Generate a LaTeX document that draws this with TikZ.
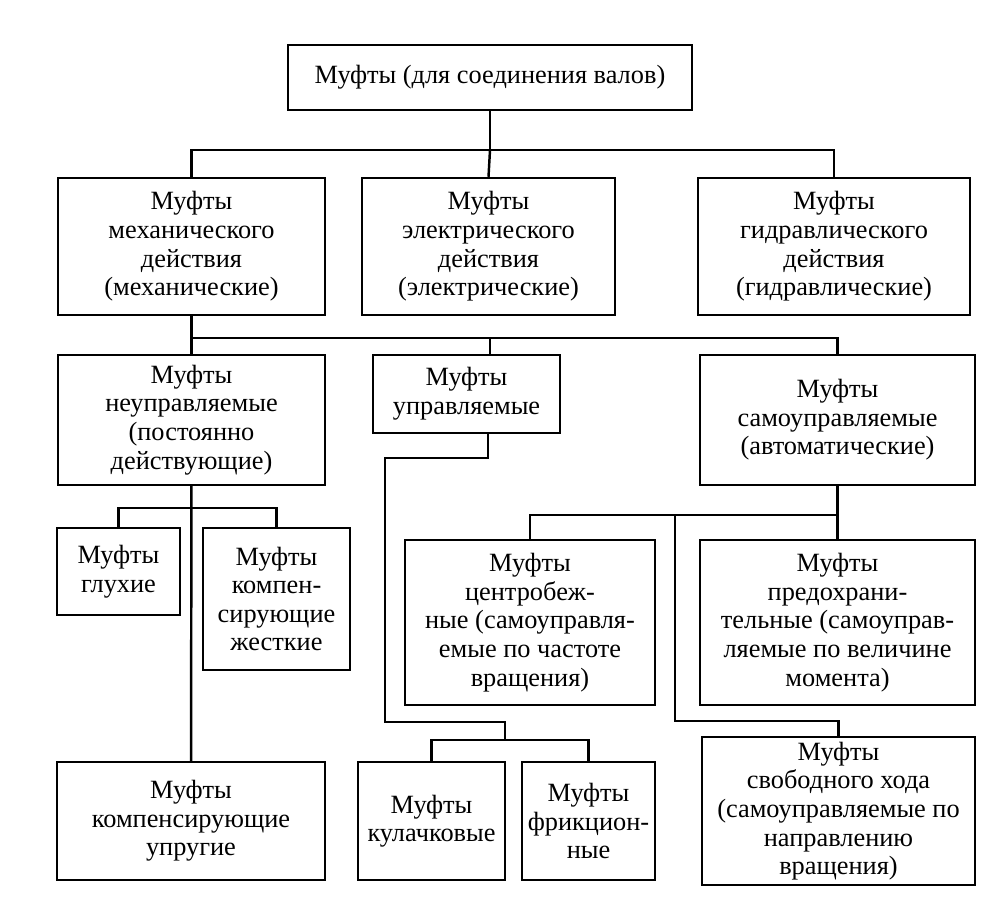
\documentclass[tikz,border=0pt]{standalone}
\usepackage{fontspec}
\setmainfont{Liberation Serif}
\usepackage{tikz}

\begin{document}
\begin{tikzpicture}[x=0.02cm,y=-0.02cm]
		\tikzset{every path/.style={line width=1.4pt}}
		\tikzset{mbox/.style 2 args={draw,align=center,inner sep=0pt,
								  minimum width=#1*0.02cm,
								  minimum height=#2*0.02cm,
								  font=\fontsize{15}{16.3}\selectfont}}

\useasboundingbox (0,0) rectangle (1006,897);

% top levels
\node [mbox={404}{65}] at (490,77.5) (top) {Муфты (для соединения валов)};
\node [mbox={267}{137}] at (191.5,246.5) (mech) {Муфты\\механического\\действия\\(механические)};
\node [mbox={253}{137}] at (488.5,246.5) (electr) {Муфты\\электрического\\действия\\(электрические)};
\node [mbox={272}{137}] at (834,246.5) (hydr) {Муфты\\гидравлического\\действия\\(гидравлические)};

% mechanical
\node [mbox={267}{130}] at (191.5,420) (nonctrl) {Муфты\\неуправляемые\\(постоянно\\действующие)};
\node [mbox={187}{78}] at (466.5,394) (ctrl) {Муфты\\управляемые};
\node [mbox={275}{130}] at (837.5,420) (selfctrl) {Муфты\\самоуправляемые\\(автоматические)};

\node [mbox={123}{87}] at (118.5,571.5) (rigid) {Муфты\\глухие};
\node [mbox={147}{142}] at (276.5,599) (comprigid) {Муфты\\компен-\\сирующие\\жесткие};
\node [mbox={268}{118}] at (191,821) (compelast) {Муфты\\компенсирующие\\упругие};

\node [mbox={250}{165}] at (530,622.5) (centrif) {Муфты\\центробеж-\\ные (самоуправля-\\емые по частоте\\вращения)};
\node [mbox={275}{165}] at (837.5,622.5) (safety) {Муфты\\предохрани-\\тельные (самоуправ-\\ляемые по величине\\момента)};
\node [mbox={147}{118}] at (431.5,821) (claw) {Муфты\\кулачковые};
\node [mbox={133}{118}] at (588.5,821) (friction) {Муфты\\фрикцион-\\ные};
\node [mbox={273}{148}] at (838.5,811) (freewheel) {Муфты\\свободного хода\\(самоуправляемые по\\направлению\\вращения)};

% joints
\coordinate (jtop) at (490,150);
\coordinate (jmech) at (490,338);
\coordinate (jnon) at (191.5,508);
\coordinate (jctrl) at (488,458);
\coordinate (jclaw) at (505,740);
\coordinate (jself) at (837.5,515);
\coordinate (jfree) at (675,721);

\draw (top) -- (jtop);
\draw (mech.north) |- (jtop) -| (hydr.north);
\draw (jtop) -- (electr.north);

\draw (mech) -- (nonctrl);
\draw (mech.south |- jmech) -| (selfctrl.north);
\draw (jmech) -- (jmech |- ctrl.north);

\draw (nonctrl) -- (compelast);
\draw (rigid.north) |- (jnon) -| (comprigid.north);

\draw (jctrl |- ctrl.south) -- (jctrl) -| (385,722) -| (jclaw);
\draw (claw.north) |- (jclaw) -| (friction.north);

\draw (selfctrl) -- (safety);
\draw (centrif.north) |- (jself);
\draw (jself -| jfree) -- (jfree) -| (freewheel.north);

\end{tikzpicture}
\end{document}
